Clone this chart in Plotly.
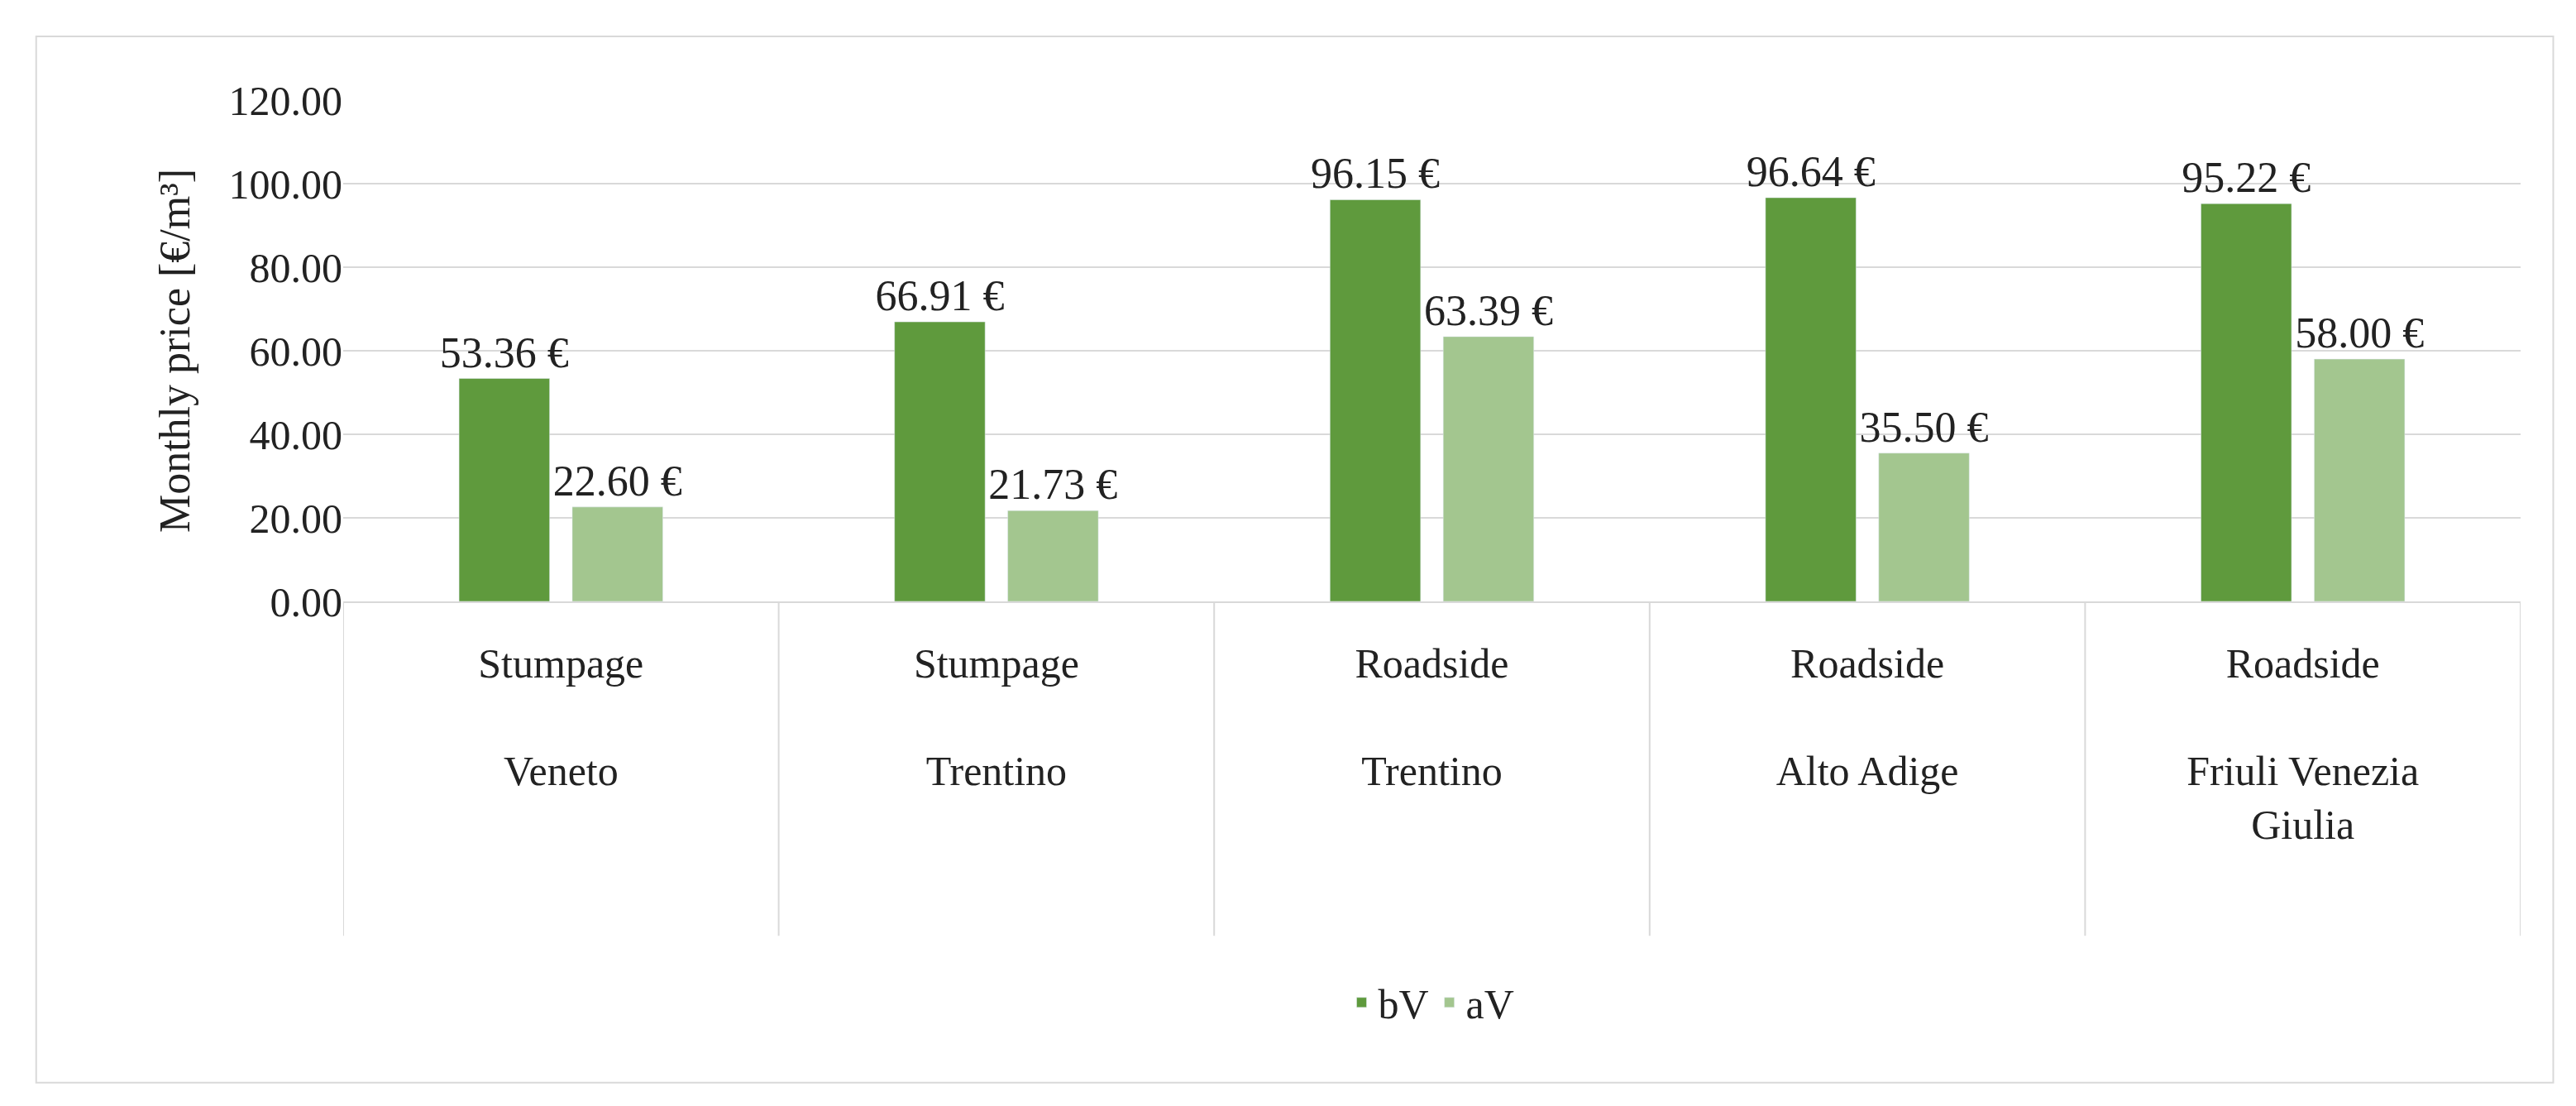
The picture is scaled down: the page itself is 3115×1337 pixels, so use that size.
import plotly.graph_objects as go

categories = ["Stumpage<br><br>Veneto", "Stumpage<br><br>Trentino", "Roadside<br><br>Trentino",
              "Roadside<br><br>Alto Adige", "Roadside<br><br>Friuli Venezia<br>Giulia"]
bv_values = [53.36, 66.91, 96.15, 96.64, 95.22]
av_values = [22.60, 21.73, 63.39, 35.50, 58.00]
y_ticks = [0, 20, 40, 60, 80, 100, 120]

FONT = "Liberation Serif"
xs = list(range(len(categories)))

fig = go.Figure()
fig.add_trace(go.Bar(x=xs, y=bv_values, name="bV", marker_color="#5f9a3d",
                     text=[f"{v:.2f} €" for v in bv_values], textposition="outside",
                     constraintext="none", textfont=dict(size=52, color="#222"), cliponaxis=False))
fig.add_trace(go.Bar(x=xs, y=av_values, name="aV", marker_color="#a3c68f",
                     text=[f"{v:.2f} €" for v in av_values], textposition="outside",
                     constraintext="none", textfont=dict(size=52, color="#222"), cliponaxis=False))

shapes = []
for b in [i - 0.5 for i in range(len(categories) + 1)]:
    shapes.append(dict(type="line", xref="x", yref="paper", x0=b, x1=b, y0=0, y1=-0.667,
                       line=dict(color="#d9d9d9", width=2)))
shapes.append(dict(type="rect", xref="paper", yref="paper", x0=-0.141, x1=1.015, y0=-0.96, y1=1.127,
                   line=dict(color="#d9d9d9", width=2)))

fig.update_layout(
    width=3115, height=1337,
    margin=dict(l=407, r=75, t=113, b=618),
    paper_bgcolor="white", plot_bgcolor="white",
    font=dict(family=FONT, size=50, color="#222"),
    barmode="group", bargap=0.48, bargroupgap=0.2,
    shapes=shapes,
    legend=dict(orientation="h", x=0.5, xanchor="center", y=-0.8, yanchor="middle",
                font=dict(size=50)),
    showlegend=True,
)
fig.update_xaxes(tickmode="array", tickvals=xs, ticktext=categories, range=[-0.5, 4.5],
                 showline=True, linecolor="#d9d9d9", linewidth=2, ticks="", showgrid=False,
                 tickfont=dict(size=50), ticklabelstandoff=30)
fig.update_yaxes(range=[0, 120], tickvals=y_ticks, ticktext=[f"{v:.2f}" for v in y_ticks],
                 showgrid=True, gridcolor="#d9d9d9", gridwidth=2, zeroline=False,
                 title=dict(text="Monthly price [€/m³]", font=dict(size=52), standoff=30))

fig.write_html("out.html")
